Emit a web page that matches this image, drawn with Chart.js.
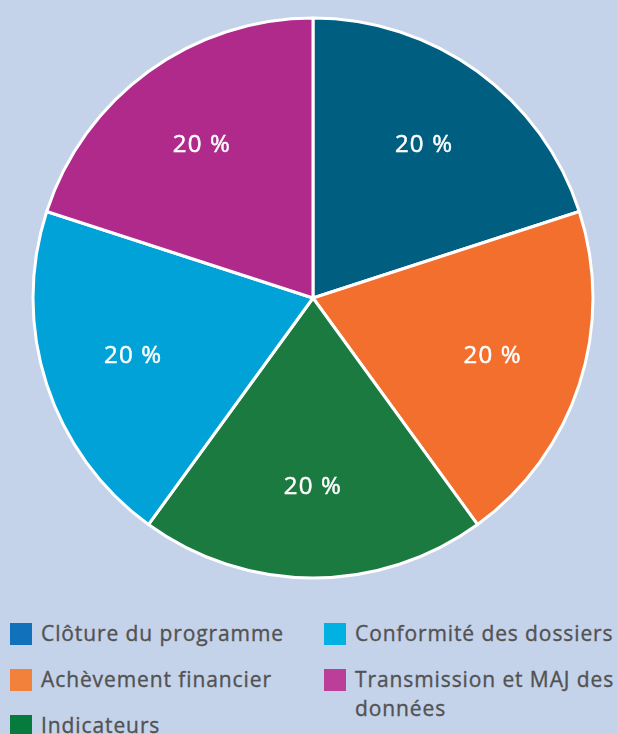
<!DOCTYPE html>
<html lang="fr">
<head>
<meta charset="utf-8">
<script src="https://cdn.jsdelivr.net/npm/chart.js@4/dist/chart.umd.min.js"></script>
<style>
  html, body { margin: 0; padding: 0; background: #c4d2ea; overflow: hidden; }
  #wrap { position: relative; width: 617px; height: 734px; }
  #pie { position: absolute; left: 0; top: 0; }
  #legend {
    position: absolute; left: 10px; top: 620px;
    display: grid; grid-template-columns: 314px 300px; row-gap: 0;
    font-family: "Open Sans", sans-serif; font-size: 21px; font-weight: 400; color: #525252;
    letter-spacing: 0.9px; -webkit-text-stroke: 0.35px #525252;
  }
  .item { display: flex; align-items: flex-start; height: 46px; }
  .sw { width: 22px; height: 22px; flex: none; margin-top: 3px; margin-right: 9px; }
  .txt { line-height: 29px; margin-top: -1px; max-width: 264px; white-space: normal; }
</style>
</head>
<body>
<div id="wrap">
  <canvas id="pie" width="617" height="596"></canvas>
  <div id="legend"></div>
</div>
<script>
// Répartition des contrôles par thème
const categories = [
  "Clôture du programme",
  "Achèvement financier",
  "Indicateurs",
  "Conformité des dossiers",
  "Transmission et MAJ des données"
];
const values = [20, 20, 20, 20, 20];
const sliceColors = ["#005e80", "#f26f2d", "#1b7a3f", "#00a2d8", "#b02a8c"];
const legendColors = ["#1171bb", "#f2813b", "#077b3e", "#00b1e2", "#bb3e98"];
// legend reading order: left column then right column
const legendOrder = [0, 3, 1, 4, 2];

// white "20 %" labels inside each slice
const sliceLabels = {
  id: "sliceLabels",
  afterDatasetsDraw(chart) {
    const ctx = chart.ctx;
    const meta = chart.getDatasetMeta(0);
    ctx.save();
    ctx.fillStyle = "#ffffff";
    ctx.strokeStyle = "#ffffff";
    ctx.lineWidth = 0.5;
    ctx.font = '24px "Open Sans", sans-serif';
    if ("letterSpacing" in ctx) ctx.letterSpacing = "1.2px";
    ctx.textAlign = "center";
    ctx.textBaseline = "middle";
    meta.data.forEach((arc, i) => {
      const p = arc.getProps(["x", "y", "startAngle", "endAngle", "outerRadius"], true);
      const mid = (p.startAngle + p.endAngle) / 2;
      const r = p.outerRadius * 0.675;
      const x = p.x + Math.cos(mid) * r, y = p.y + Math.sin(mid) * r;
      const t = values[i] + " %";
      ctx.fillText(t, x, y);
      ctx.strokeText(t, x, y);
    });
    ctx.restore();
  }
};

new Chart(document.getElementById("pie"), {
  type: "pie",
  data: {
    labels: categories,
    datasets: [{
      data: values,
      backgroundColor: sliceColors,
      borderColor: "#ffffff",
      borderWidth: 3,
      hoverOffset: 0
    }]
  },
  options: {
    responsive: false,
    animation: false,
    radius: 280,
    layout: { padding: { left: 9 } },
    plugins: { legend: { display: false }, tooltip: { enabled: false } }
  },
  plugins: [sliceLabels]
});

// legend built from the same categories
const legend = document.getElementById("legend");
legendOrder.forEach(i => {
  const item = document.createElement("div");
  item.className = "item";
  const sw = document.createElement("div");
  sw.className = "sw";
  sw.style.background = legendColors[i];
  const txt = document.createElement("div");
  txt.className = "txt";
  txt.textContent = categories[i];
  item.appendChild(sw);
  item.appendChild(txt);
  legend.appendChild(item);
});
</script>
</body>
</html>
